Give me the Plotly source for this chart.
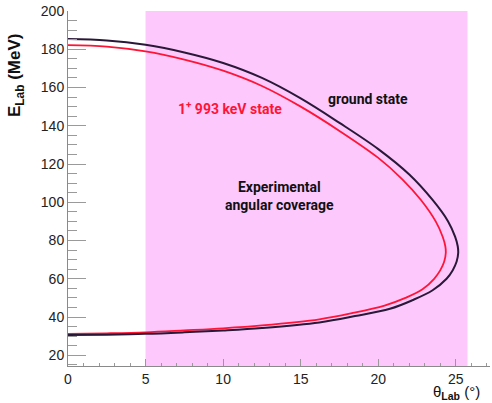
import plotly.graph_objects as go

# ---- data ----
theta_ground = [0, 2.5, 5, 7.5, 10, 12.5, 15, 17.5, 20, 22, 23.5, 24.5, 24.95, 25.12, 25.15,
                25.05, 24.8, 24.4, 23.5, 22.2, 20.75, 18.5, 16.2, 12.5, 10, 7.5, 5, 2.5, 0]
e_ground = [185.3, 184.6, 182.3, 178.3, 172.8, 165, 154.3, 141.5, 127.8, 114.5, 101.2, 90, 82, 77, 73.5,
            69, 64.5, 60, 54, 48.8, 44.3, 40.5, 37.2, 34.3, 33, 32, 31.2, 30.8, 30.6]

theta_excited = [0, 2.5, 5, 7.5, 10, 12.5, 15, 17.5, 20, 21.55, 22.75, 23.7, 24.15, 24.32, 24.35,
                 24.25, 24.0, 23.6, 22.85, 21.75, 20.4, 18.3, 16.2, 12.5, 10, 7.5, 5, 2.5, 0]
e_excited = [182.2, 181.4, 178.9, 174.6, 168.8, 160.8, 150, 137.3, 123.2, 112, 101.2, 90, 82, 77, 73.5,
             69, 64.5, 60, 54.5, 50, 46, 42, 38.8, 35.6, 34.1, 33, 32, 31.5, 31.2]

coverage = [5, 25.75]
x_range = [0, 27.2]
y_range = [14.4, 200]

x_ticks = [0, 5, 10, 15, 20, 25]
y_ticks = [20, 40, 60, 80, 100, 120, 140, 160, 180, 200]

W, H = 492, 403
L, R, T, B = 68, 2, 11, 37

fig = go.Figure()

fig.add_shape(type="rect", xref="x", yref="paper", x0=coverage[0], x1=coverage[1], y0=0, y1=1,
              fillcolor="#fdc9fd", line=dict(width=0), layer="below")

fig.add_trace(go.Scatter(x=theta_excited, y=e_excited, mode="lines",
                         line=dict(color="#ff1436", width=1.8, shape="spline", smoothing=1.0),
                         showlegend=False, hoverinfo="skip"))
fig.add_trace(go.Scatter(x=theta_ground, y=e_ground, mode="lines",
                         line=dict(color="#2a1838", width=2, shape="spline", smoothing=1.0),
                         showlegend=False, hoverinfo="skip"))

axis_common = dict(showgrid=False, zeroline=False, showline=True, linecolor="#8a8a8a", linewidth=1,
                   ticks="inside", tickcolor="#9a9a9a", tickwidth=1, automargin=False,
                   ticklabeloverflow="allow",
                   tickfont=dict(family="Liberation Sans, Arial", size=14, color="#222222"))

fig.update_xaxes(range=x_range, tickvals=x_ticks, ticklen=7,
                 minor=dict(ticks="inside", dtick=1, ticklen=3.5, tickcolor="#9a9a9a"),
                 **axis_common)
fig.update_yaxes(range=y_range, tickvals=y_ticks, ticklen=18,
                 minor=dict(ticks="inside", dtick=5, ticklen=9, tickcolor="#9a9a9a", tick0=0),
                 **axis_common)

ann_font = dict(family="Roboto, Liberation Sans", size=14)
fig.add_annotation(x=19.34, y=154, xref="x", yref="y", text="<b>ground state</b>", showarrow=False,
                   font=dict(color="#111111", **ann_font))
fig.add_annotation(x=10.42, y=149.5, xref="x", yref="y", text="<b>1<sup>+</sup> 993 keV state</b>",
                   showarrow=False, font=dict(color="#ff1436", **ann_font))
fig.add_annotation(x=13.6, y=103.3, xref="x", yref="y", text="<b>Experimental<br>angular coverage</b>",
                   showarrow=False, font=dict(color="#111111", **ann_font))

pw, ph = W - L - R, H - T - B
def px2paper(px, py):
    return (px - L) / pw, (H - B - py) / ph

yx, yy = px2paper(16, 76)
fig.add_annotation(x=yx, y=yy, xref="paper", yref="paper", text="<b>E<sub>Lab</sub> (MeV)</b>",
                   textangle=-90, showarrow=False, xanchor="center", yanchor="middle",
                   font=dict(family="Liberation Sans, Arial", size=17, color="#111111"))
xx, xy = px2paper(456, 393)
fig.add_annotation(x=xx, y=xy, xref="paper", yref="paper", text="θ<sub><b>Lab</b></sub> (°)",
                   showarrow=False, xanchor="center", yanchor="middle",
                   font=dict(family="Liberation Sans, Arial", size=15, color="#111111"))

fig.update_layout(width=W, height=H, margin=dict(l=L, r=R, t=T, b=B),
                  paper_bgcolor="white", plot_bgcolor="white", showlegend=False)

fig.write_html("out.html", config={"displayModeBar": False},
               post_script="document.body.style.margin='0';document.body.style.overflow='hidden';")
